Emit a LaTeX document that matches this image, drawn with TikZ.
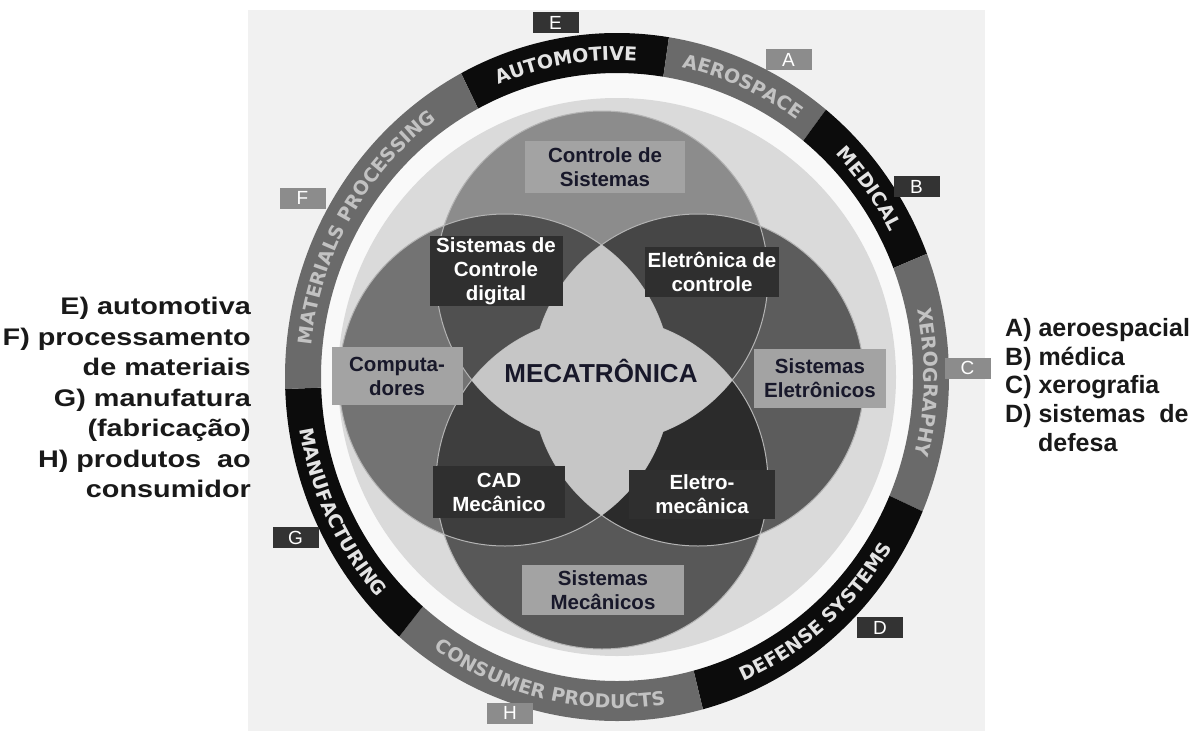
\documentclass[tikz,border=0pt]{standalone}
\usepackage{fontspec}
\setmainfont{Liberation Sans}
\newfontfamily\ringfont{DejaVu Sans}
\newfontfamily\legfont[FakeStretch=1.2]{Liberation Sans}
\usetikzlibrary{calc,decorations.text}

\definecolor{panel}{HTML}{F1F1F1}
\definecolor{whiteband}{HTML}{F9F9F9}
\definecolor{disc}{HTML}{DADADA}
\definecolor{ringblack}{HTML}{0C0C0C}
\definecolor{ringgray}{HTML}{6A6A6A}
\definecolor{txtonblack}{HTML}{E4E4E4}
\definecolor{txtongray}{HTML}{C2C2C2}
\definecolor{ctop}{HTML}{8C8C8C}
\definecolor{cleft}{HTML}{737373}
\definecolor{cright}{HTML}{5C5C5C}
\definecolor{cbottom}{HTML}{585858}
\definecolor{ovtl}{HTML}{505050}
\definecolor{ovtr}{HTML}{464646}
\definecolor{ovbl}{HTML}{3E3E3E}
\definecolor{ovbr}{HTML}{2B2B2B}
\definecolor{starfill}{HTML}{C6C6C6}
\definecolor{edgecol}{HTML}{B4B4B4}
\definecolor{boxlight}{HTML}{A3A3A3}
\definecolor{boxdark}{HTML}{2F2F2F}
\definecolor{labeltext}{HTML}{18182A}
\definecolor{tagdarkc}{HTML}{333333}
\definecolor{taglightc}{HTML}{8C8C8C}

\newcommand\ringfmt{\ringfont\bfseries\fontsize{19}{19}\selectfont}

\tikzset{
  lightbox/.style={fill=boxlight, text=labeltext, align=center, inner sep=0pt,
    font=\bfseries\fontsize{20.5}{24}\selectfont},
  darkbox/.style={lightbox, fill=boxdark, text=white},
  tagdark/.style={fill=tagdarkc, text=white, inner sep=0pt, minimum width=46pt,
    minimum height=21pt, font=\fontsize{19}{19}\selectfont},
  taglight/.style={tagdark, fill=taglightc},
  legleft/.style={font=\legfont\bfseries\fontsize{24}{30.5}\selectfont, align=right,
    inner sep=0pt, text=black!90},
  legright/.style={font=\bfseries\fontsize{25}{28.75}\selectfont, align=left,
    inner sep=0pt, text=black!90},
  ringlabel/.style={decorate, decoration={text along path, text align=center, text={#1}}}
}

\begin{document}
\begin{tikzpicture}[x=1pt, y=-1pt]
\useasboundingbox (0,0) rectangle (1194,731);

\def\topcircle{(602,277) circle (166pt)}
\def\leftcircle{(505,380) circle (166pt)}
\def\rightcircle{(698,380) circle (166pt)}
\def\bottomcircle{(602,483) circle (166pt)}

\coordinate (ring) at (617,377);

% backdrop
\fill[panel] (248,10) rectangle (985,731);
\fill[whiteband] (ring) ellipse [x radius=300pt, y radius=308pt];
\fill[disc] (ring) circle (279pt);

% outer ring
\foreach \a/\b/\c in {81/118/ringblack, 51/81/ringgray, 21/51/ringblack, -23/21/ringgray,
  -75/-23/ringblack, -131/-75/ringgray, -178/-131/ringblack, -242/-178/ringgray}
  \fill[\c] ($(ring)+(\a:332pt and 344pt)$) arc[start angle=\a, end angle=\b, x radius=332pt, y radius=344pt]
    -- ($(ring)+(\b:296pt and 304pt)$) arc[start angle=\b, end angle=\a, x radius=296pt, y radius=304pt] -- cycle;

\path[ringlabel={|\ringfmt\color{txtonblack}|AUTOMOTIVE}] ($(ring)+(118:307pt and 317pt)$) arc[start angle=118, end angle=81, x radius=307pt, y radius=317pt];
\path[ringlabel={|\ringfmt\color{txtongray}|AEROSPACE}] ($(ring)+(81:307pt and 317pt)$) arc[start angle=81, end angle=51, x radius=307pt, y radius=317pt];
\path[ringlabel={|\ringfmt\color{txtonblack}|MEDICAL}] ($(ring)+(51:307pt and 317pt)$) arc[start angle=51, end angle=21, x radius=307pt, y radius=317pt];
\path[ringlabel={|\ringfmt\color{txtongray}|XEROGRAPHY}] ($(ring)+(21:307pt and 317pt)$) arc[start angle=21, end angle=-23, x radius=307pt, y radius=317pt];
\path[ringlabel={|\ringfmt\color{txtongray}|MATERIALS PROCESSING}] ($(ring)+(182:307pt and 317pt)$) arc[start angle=182, end angle=118, x radius=307pt, y radius=317pt];
\path[ringlabel={|\ringfmt\color{txtonblack}|DEFENSE SYSTEMS}] ($(ring)+(-75:321pt and 331pt)$) arc[start angle=-75, end angle=-23, x radius=321pt, y radius=331pt];
\path[ringlabel={|\ringfmt\color{txtongray}|CONSUMER PRODUCTS}] ($(ring)+(229:321pt and 331pt)$) arc[start angle=229, end angle=285, x radius=321pt, y radius=331pt];
\path[ringlabel={|\ringfmt\color{txtonblack}|MANUFACTURING}] ($(ring)+(182:321pt and 331pt)$) arc[start angle=182, end angle=229, x radius=321pt, y radius=331pt];

% four circles
\fill[ctop] \topcircle;
\fill[cleft] \leftcircle;
\fill[cright] \rightcircle;
\fill[cbottom] \bottomcircle;

\begin{scope}
\clip \topcircle;
\fill[ovtl] \leftcircle;
\fill[ovtr] \rightcircle;
\end{scope}
\begin{scope}
\clip \bottomcircle;
\fill[ovbl] \leftcircle;
\fill[ovbr] \rightcircle;
\end{scope}

\draw[edgecol, line width=1pt] \topcircle \leftcircle \rightcircle \bottomcircle;

% centre star
\begin{scope}
\clip \leftcircle;
\fill[starfill] \rightcircle;
\end{scope}
\begin{scope}
\clip \topcircle;
\fill[starfill] \bottomcircle;
\end{scope}

\node[font=\bfseries\fontsize{26}{26}\selectfont, text=labeltext, inner sep=0pt, anchor=base] (meca) at (601,382) {MECATRÔNICA};

\node[lightbox, minimum width=160pt, minimum height=52pt] (ctrlsis) at (605,167) {Controle de\\Sistemas};
\node[darkbox, minimum width=133pt, minimum height=70pt] (ctrldig) at (496,271) {Sistemas de\\Controle\\digital};
\node[darkbox, minimum width=134pt, minimum height=50pt] (eletctrl) at (712,272) {Eletrônica de\\controle};
\node[lightbox, minimum width=131pt, minimum height=58pt] (comput) at (397,376) {Computa-\\dores};
\node[lightbox, minimum width=132pt, minimum height=59pt] (siseletr) at (820,378) {Sistemas\\Eletrônicos};
\node[darkbox, minimum width=132pt, minimum height=52pt] (cadmec) at (499,492) {CAD\\Mecânico};
\node[darkbox, minimum width=146pt, minimum height=49pt] (eletromec) at (702,494) {Eletro-\\mecânica};
\node[lightbox, minimum width=162pt, minimum height=50pt] (sismec) at (603,590) {Sistemas\\Mecânicos};

% letter tags
\node[tagdark] (tagE) at (555.5,22.5) {E};
\node[taglight] (tagA) at (788.5,59.5) {A};
\node[tagdark] (tagB) at (916.5,186.5) {B};
\node[taglight] (tagC) at (967.5,368) {C};
\node[tagdark] (tagD) at (880,627.5) {D};
\node[taglight] (tagF) at (302.5,198) {F};
\node[tagdark] (tagG) at (295.5,537.5) {G};
\node[taglight] (tagH) at (510,713) {H};

% legends
\node[legleft, anchor=north east] (legEH) at (251,297) {E) automotiva\\F) processamento\\de materiais\\G) manufatura\\(fabricação)\\H) produtos~~ao\\consumidor};
\node[legright, anchor=north west] (legAD) at (1005,318) {A) aeroespacial\\B) médica\\C) xerografia\\D) sistemas~~de\\\hspace*{33pt}defesa};

\end{tikzpicture}
\end{document}
